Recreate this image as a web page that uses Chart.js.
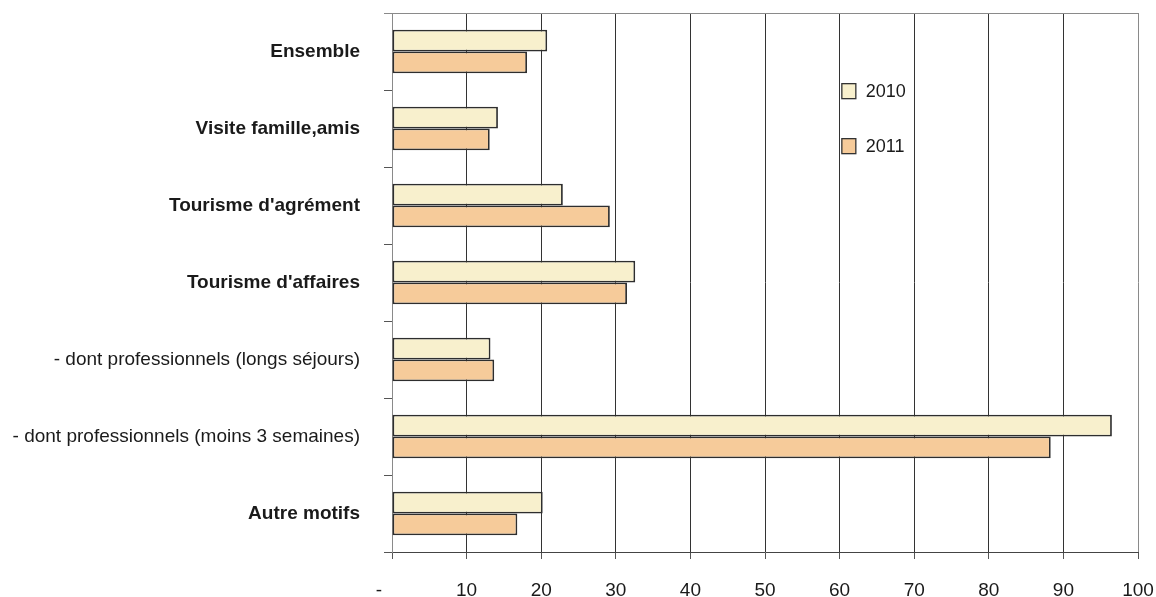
<!DOCTYPE html>
<html>
<head>
<meta charset="utf-8">
<script src="https://cdn.jsdelivr.net/npm/chart.js@4.4.0/dist/chart.umd.min.js"></script>
<style>
  html, body { margin: 0; padding: 0; background: #fff; }
  #wrap { width: 1156px; height: 597px; position: relative; }
</style>
</head>
<body>
<div id="wrap"><canvas id="motifsChart"></canvas></div>
<script>
    // catégories et valeurs
    const categories = ['Ensemble', 'Visite famille,amis', "Tourisme d'agrément", "Tourisme d'affaires",
        '- dont professionnels (longs séjours)', '- dont professionnels (moins 3 semaines)', 'Autre motifs'];
    const boldLabels = [true, true, true, true, false, false, true];
    const values2010 = [20.8, 14.2, 22.9, 32.6, 13.2, 96.5, 20.2];
    const values2011 = [18.1, 13.1, 29.2, 31.5, 13.7, 88.3, 16.8];
    const xTicks = [0, 10, 20, 30, 40, 50, 60, 70, 80, 90, 100];

    const FONT = "'Liberation Sans', Arial, sans-serif";

    // légende placée dans la zone du graphique
    const insideLegend = {
        id: 'insideLegend',
        afterDraw(chart) {
            const ctx = chart.ctx;
            const area = chart.chartArea;
            const x = area.left + 0.603 * (area.right - area.left);
            chart.data.datasets.forEach((ds, i) => {
                const y = area.top + 0.145 * (area.bottom - area.top) + i * 55;
                ctx.save();
                ctx.fillStyle = ds.backgroundColor;
                ctx.strokeStyle = '#333';
                ctx.lineWidth = 1.3;
                ctx.fillRect(x, y - 7.5, 14, 15);
                ctx.strokeRect(x, y - 7.5, 14, 15);
                ctx.fillStyle = '#1a1a1a';
                ctx.font = '18px ' + FONT;
                ctx.textBaseline = 'middle';
                ctx.fillText(ds.label, x + 24, y + 1);
                ctx.restore();
            });
        }
    };

    // ligne du haut sur toute la largeur
    const topLine = {
        id: 'topLine',
        afterDatasetsDraw(chart) {
            const ctx = chart.ctx;
            const area = chart.chartArea;
            ctx.save();
            ctx.strokeStyle = '#8a8a8a';
            ctx.lineWidth = 1;
            ctx.beginPath();
            ctx.moveTo(area.left - 8, area.top + 0.5);
            ctx.lineTo(area.right, area.top + 0.5);
            ctx.stroke();
            ctx.restore();
        }
    };

    new Chart(document.getElementById('motifsChart'), {
        type: 'bar',
        data: {
            labels: categories,
            datasets: [
                {
                    label: '2010',
                    data: values2010,
                    backgroundColor: '#f8f0cd',
                    borderColor: '#2e2e2e',
                    borderWidth: 1.8,
                    borderSkipped: false
                },
                {
                    label: '2011',
                    data: values2011,
                    backgroundColor: '#f6cb9a',
                    borderColor: '#2e2e2e',
                    borderWidth: 1.8,
                    borderSkipped: false
                }
            ]
        },
        options: {
            indexAxis: 'y',
            responsive: true,
            maintainAspectRatio: false,
            animation: false,
            categoryPercentage: 0.567,
            barPercentage: 1,
            layout: { padding: { top: 13, right: 18, left: 0, bottom: 0 } },
            plugins: {
                legend: { display: false },
                tooltip: { enabled: false }
            },
            scales: {
                x: {
                    min: 0,
                    max: 100,
                    afterBuildTicks(scale) {
                        scale.ticks = xTicks.map(v => ({ value: v }));
                    },
                    afterFit(scale) {
                        scale.height = 45;
                        scale.paddingLeft = 0;
                        scale.paddingRight = 0;
                    },
                    grid: {
                        color: ctx => (ctx.tick && (ctx.tick.value === 0 || ctx.tick.value === 100)) ? '#8a8a8a' : '#333',
                        tickColor: '#555',
                        tickLength: 7,
                        lineWidth: 1
                    },
                    border: { color: '#444', width: 1 },
                    ticks: {
                        padding: 20,
                        color: '#1a1a1a',
                        font: { family: FONT, size: 19 },
                        maxRotation: 0,
                        callback: v => v === 0 ? '-     ' : v
                    }
                },
                y: {
                    afterFit(scale) {
                        scale.width = 392;
                        scale.paddingTop = 0;
                        scale.paddingBottom = 0;
                    },
                    grid: {
                        offset: true,
                        drawOnChartArea: false,
                        tickLength: 8,
                        tickColor: '#555'
                    },
                    border: { color: '#8a8a8a', width: 1 },
                    ticks: {
                        padding: 24,
                        color: '#1a1a1a',
                        font: ctx => ({ family: FONT, size: 19, weight: boldLabels[ctx.index] ? 'bold' : 'normal' })
                    }
                }
            }
        },
        plugins: [insideLegend, topLine]
    });
</script>
</body>
</html>
